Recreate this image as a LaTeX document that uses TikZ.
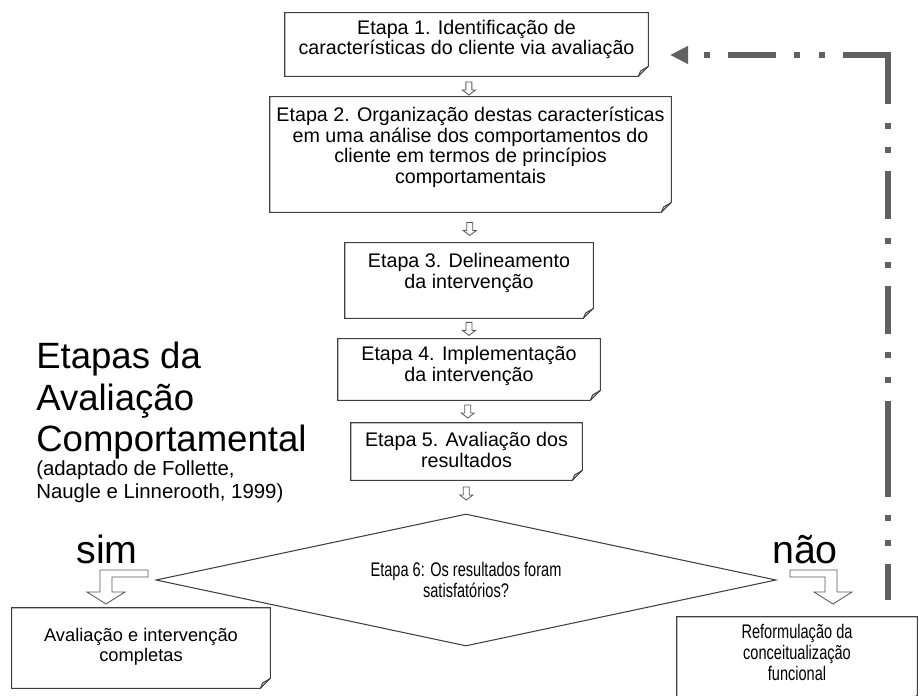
\documentclass[tikz,border=0pt]{standalone}
\usepackage{fontspec}
\setmainfont{Liberation Sans}
\newfontfamily\narrowfont[FakeStretch=0.74]{Liberation Sans}
\usetikzlibrary{arrows.meta,calc,positioning,fit,shapes.geometric}
\newcommand{\fsz}{7pt}
\newcommand{\px}{0.7113pt}
\newcommand{\notebox}[1]{%
  \draw[boxline] (#1.north west) -- (#1.north east) -- ([yshift=\fsz]#1.south east)
    -- ([xshift=-\fsz]#1.south east) -- (#1.south west) -- cycle;
  \draw[boxline] ([xshift=-\fsz]#1.south east) -- ([shift={(-0.78*\fsz,0.53*\fsz)}]#1.south east)
    -- ([yshift=\fsz]#1.south east);
}
\tikzset{
  boxline/.style    = {draw=black!75, line width=0.75pt, line join=miter},
  boxarea/.style    = {inner sep=0pt, draw=none},
  steptext/.style   = {inner sep=0pt, align=center, font=\fontsize{14}{14.6}\selectfont},
  smalltext/.style  = {inner sep=0pt, align=center, font=\fontsize{13}{14.2}\selectfont},
  narrowtext/.style = {inner sep=0pt, align=center, font=\narrowfont\fontsize{14}{14.9}\selectfont},
  bigtext/.style    = {inner sep=0pt, font=\fontsize{28}{30}\selectfont},
  blockarrow/.style = {draw=black!65, fill=white, line width=0.6pt, line join=miter},
  feedback/.style   = {draw=black!62, line width=4.27pt,
                       dash pattern=on 34.1pt off 13pt on 4.3pt off 13pt on 4.3pt off 13pt},
  downarr/.pic      = {\draw[blockarrow] (-3,-6.5) -- (3,-6.5) -- (3,1.5) -- (6.5,1.5)
                       -- (0,6.5) -- (-6.5,1.5) -- (-3,1.5) -- cycle;},
}

\begin{document}
\begin{tikzpicture}[x=0.025cm, y=-0.025cm]
  \useasboundingbox (0,0) rectangle (924,695);

  % steps 1 to 5
  \node[boxarea, fit={(285,13) (648,76)}] (b1) {};
  \node[steptext, below=4.8pt of b1.north] (t1)
    {Etapa 1. Identificação de\\características do cliente via avaliação};
  \node[boxarea, fit={(270,97) (671,212)}] (b2) {};
  \node[steptext, below=7.2pt of b2.north] (t2)
    {Etapa 2. Organização destas características\\em uma análise dos comportamentos do\\cliente em termos de princípios\\comportamentais};
  \node[boxarea, fit={(345,243) (593,318)}] (b3) {};
  \node[steptext, below=7.5pt of b3.north] (t3)
    {Etapa 3. Delineamento\\da intervenção};
  \node[boxarea, fit={(338,339) (600,400)}] (b4) {};
  \node[steptext, below=5.4pt of b4.north] (t4)
    {Etapa 4. Implementação\\da intervenção};
  \node[boxarea, fit={(351,423) (582,480)}] (b5) {};
  \node[steptext, below=6.8pt of b5.north] (t5)
    {Etapa 5. Avaliação dos\\resultados};
  \foreach \b in {b1,b2,b3,b4,b5} {\notebox{\b}}

  % step 6
  \node[diamond, aspect=4.7, boxline, narrowtext, minimum width=620*\px,
        minimum height=132*\px] (d6) at (466,580)
    {Etapa 6: Os resultados foram\\satisfatórios?};

  \pic at ($(b1.south)!0.6!(b2.north)$) {downarr};
  \pic at ($(b2.south)!0.55!(b3.north)$) {downarr};
  \pic at ($(b3.south)!0.52!(b4.north)$) {downarr};
  \pic at ($(b4.south)!0.5!(b5.north)$) {downarr};
  \pic at ($(b5.south)!0.4!(d6.north)$) {downarr};

  % outcomes
  \node[bigtext, anchor=base] (sim) at (107,563) {sim};
  \node[bigtext, anchor=base] (nao) at (805,563) {não};
  \draw[blockarrow] (148,570) -- (100,570) -- (100,592) -- (87,592) -- (106,604)
    -- (125,592) -- (112,592) -- (112,577) -- (148,577) -- cycle;
  \draw[blockarrow] (790,570) -- (837,570) -- (837,592) -- (852,592) -- (833,604)
    -- (814,592) -- (825,592) -- (825,577) -- (790,577) -- cycle;

  \node[boxarea, fit={(12,608) (270,688)}] (b6) {};
  \node[smalltext, below=14.1pt of b6.north] (t6)
    {Avaliação e intervenção\\completas};
  \node[boxarea, fit={(677,617) (917,705)}] (b7) {};
  \node[narrowtext, below=5.4pt of b7.north] (t7)
    {Reformulação da\\conceitualização\\funcional};
  \notebox{b6}
  \notebox{b7}

  % feedback line
  \coordinate (fbbot) at (888,600);
  \coordinate (fbmid) at (888,449);
  \coordinate (fbtop) at (888,55);
  \coordinate (fbend) at (670,55);
  \draw[feedback] (fbmid) -- (fbbot);
  \draw[feedback] (fbmid) -- ([yshift=2.1pt]fbtop);
  \draw[feedback, -{Triangle[length=12.8pt, width=12pt]}] ([xshift=2.1pt]fbtop) -- (fbend);

  % title
  \node[anchor=north west, inner sep=0pt, align=left, font=\fontsize{26}{29.5}\selectfont]
    (title) at (36,342) {Etapas da\\Avaliação\\Comportamental};
  \node[anchor=north west, inner sep=0pt, align=left, font=\fontsize{14.5}{16.4}\selectfont]
    (source) at (36,460) {(adaptado de Follette,\\Naugle e Linnerooth, 1999)};
\end{tikzpicture}
\end{document}
